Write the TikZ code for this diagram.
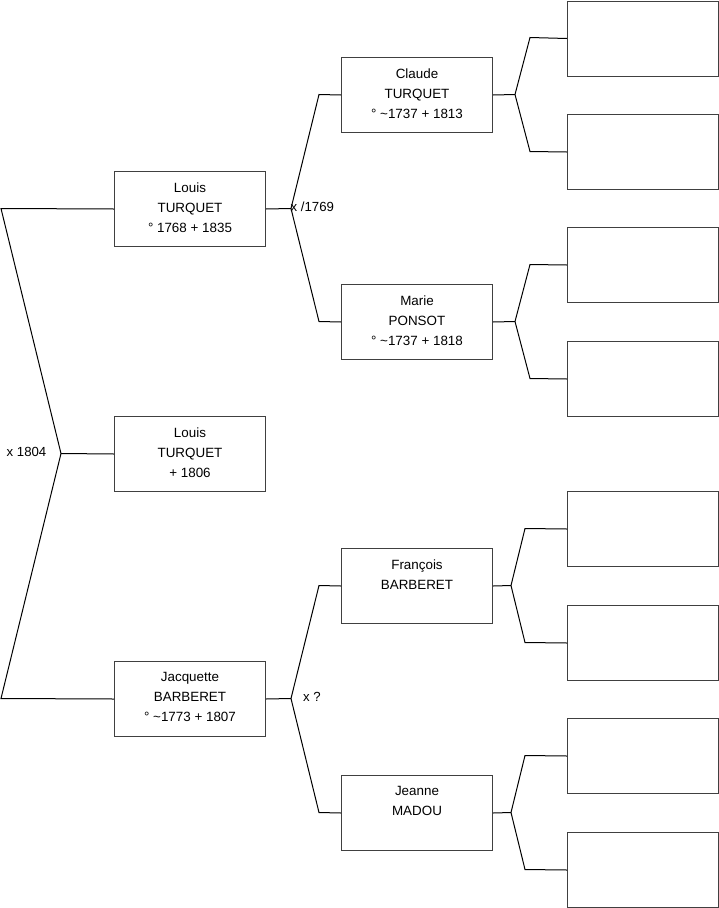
\documentclass[tikz,border=0pt]{standalone}
\usepackage{fontspec}
\setmainfont{Liberation Sans}
\begin{document}
\begin{tikzpicture}[x=1pt,y=-1pt,
  box/.style={draw=black!75, line width=1pt, minimum width=151pt, minimum height=75pt, anchor=north west, inner sep=0pt},
  txt/.style={anchor=north, align=center, font=\fontsize{13.4}{20}\selectfont, inner sep=0pt},
  lbl/.style={font=\fontsize{13.2}{14}\selectfont, inner sep=0pt},
  conn/.style={line width=1pt, black}]
\useasboundingbox (0,0) rectangle (719,908);
% persons
\node[box] (p1) at (114,171) {};
\node[box] (p2) at (114,416) {};
\node[box] (p3) at (114,661) {};
\node[box] (c1) at (341,57) {};
\node[box] (c2) at (341,284) {};
\node[box] (c3) at (341,548) {};
\node[box] (c4) at (341,775) {};
\node[txt] (t1) at ([yshift=-11.5pt]p1.north) {Louis\\TURQUET\\° 1768 + 1835};
\node[txt] (t2) at ([yshift=-11.5pt]p2.north) {Louis\\TURQUET\\+ 1806};
\node[txt] (t3) at ([yshift=-11.5pt]p3.north) {Jacquette\\BARBERET\\° \textasciitilde1773 + 1807};
\node[txt] (u1) at ([yshift=-11.5pt]c1.north) {Claude\\TURQUET\\° \textasciitilde1737 + 1813};
\node[txt] (u2) at ([yshift=-11.5pt]c2.north) {Marie\\PONSOT\\° \textasciitilde1737 + 1818};
\node[txt] (u3) at ([yshift=-11.5pt]c3.north) {François\\BARBERET};
\node[txt] (u4) at ([yshift=-11.5pt]c4.north) {Jeanne\\MADOU};
% empty boxes
\node[box] (e1) at (567,0.5) {};
\node[box] (e2) at (567,114) {};
\node[box] (e3) at (567,227) {};
\node[box] (e4) at (567,341) {};
\node[box] (e5) at (567,491) {};
\node[box] (e6) at (567,605) {};
\node[box] (e7) at (567,718) {};
\node[box] (e8) at (567,832) {};
% left fork
\coordinate (L) at (61,453.5);
\coordinate (a1) at (1,208.5);
\coordinate (a3) at (1,698.5);
\draw[conn] (p1.west) -- (a1) -- (L) -- (a3) -- (p3.west);
\draw[conn] (L) -- (p2.west);
\node[lbl] (m0) at (26.5,452) {x 1804};
% middle forks
\coordinate (f1) at (291,208.5);
\coordinate (k1) at (319,94.5);
\coordinate (k2) at (319,321.5);
\draw[conn] (p1.east) -- (f1);
\draw[conn] (c1.west) -- (k1) -- (f1) -- (k2) -- (c2.west);
\node[lbl, anchor=west] (m1) at (290.5,207) {x /1769};
\coordinate (f2) at (291,698.5);
\coordinate (k3) at (319,585.5);
\coordinate (k4) at (319,812.5);
\draw[conn] (p3.east) -- (f2);
\draw[conn] (c3.west) -- (k3) -- (f2) -- (k4) -- (c4.west);
\node[lbl, anchor=west] (m2) at (303,697) {x ?};
% right forks
\coordinate (g1) at (515,94.5);
\draw[conn] (c1.east) -- (g1);
\draw[conn] (e1.west) -- (530,37.5) -- (g1) -- (530,151.5) -- (e2.west);
\coordinate (g2) at (515,321.5);
\draw[conn] (c2.east) -- (g2);
\draw[conn] (e3.west) -- (530,264.5) -- (g2) -- (530,378.5) -- (e4.west);
\coordinate (g3) at (511,585.5);
\draw[conn] (c3.east) -- (g3);
\draw[conn] (e5.west) -- (525,528.5) -- (g3) -- (525,642.5) -- (e6.west);
\coordinate (g4) at (511,812.5);
\draw[conn] (c4.east) -- (g4);
\draw[conn] (e7.west) -- (525,755.5) -- (g4) -- (525,869.5) -- (e8.west);
\end{tikzpicture}
\end{document}
